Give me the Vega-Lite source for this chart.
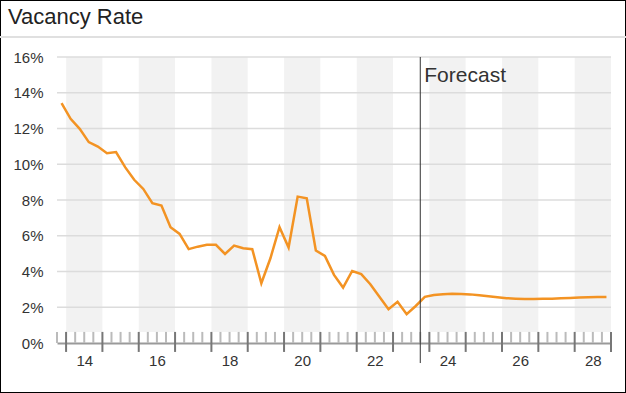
{
  "$schema": "https://vega.github.io/schema/vega-lite/v6.json",
  "width": 626,
  "height": 393,
  "padding": 0,
  "autosize": {"type": "none"},
  "background": "white",
  "config": {
    "view": {"stroke": "black", "strokeWidth": 2},
    "font": "Liberation Sans"
  },
  "title": {
    "text": "Vacancy Rate",
    "anchor": "start",
    "frame": "group",
    "orient": "top",
    "fontSize": 22,
    "fontWeight": "normal",
    "font": "Liberation Sans",
    "color": "#222",
    "baseline": "alphabetic",
    "offset": -24,
    "dx": 8,
    "dy": 22
  },
  "datasets": {
    "series": [
      {"t": 2013.875, "v": 13.42}, {"t": 2014.125, "v": 12.54}, {"t": 2014.375, "v": 11.98}, {"t": 2014.625, "v": 11.24},
      {"t": 2014.875, "v": 10.99}, {"t": 2015.125, "v": 10.62}, {"t": 2015.375, "v": 10.68}, {"t": 2015.625, "v": 9.84},
      {"t": 2015.875, "v": 9.13}, {"t": 2016.125, "v": 8.62}, {"t": 2016.375, "v": 7.82}, {"t": 2016.625, "v": 7.69},
      {"t": 2016.875, "v": 6.48}, {"t": 2017.125, "v": 6.10}, {"t": 2017.375, "v": 5.25}, {"t": 2017.625, "v": 5.39},
      {"t": 2017.875, "v": 5.49}, {"t": 2018.125, "v": 5.49}, {"t": 2018.375, "v": 4.98}, {"t": 2018.625, "v": 5.45},
      {"t": 2018.875, "v": 5.30}, {"t": 2019.125, "v": 5.25}, {"t": 2019.375, "v": 3.34}, {"t": 2019.625, "v": 4.74},
      {"t": 2019.875, "v": 6.48}, {"t": 2020.125, "v": 5.34}, {"t": 2020.375, "v": 8.19}, {"t": 2020.625, "v": 8.10},
      {"t": 2020.875, "v": 5.17}, {"t": 2021.125, "v": 4.87}, {"t": 2021.375, "v": 3.81}, {"t": 2021.625, "v": 3.10},
      {"t": 2021.875, "v": 4.03}, {"t": 2022.125, "v": 3.85}, {"t": 2022.375, "v": 3.29}, {"t": 2022.625, "v": 2.59},
      {"t": 2022.875, "v": 1.89}, {"t": 2023.125, "v": 2.31}, {"t": 2023.375, "v": 1.61}, {"t": 2023.625, "v": 2.07},
      {"t": 2023.875, "v": 2.58}, {"t": 2024.125, "v": 2.69}, {"t": 2024.375, "v": 2.73}, {"t": 2024.625, "v": 2.75},
      {"t": 2024.875, "v": 2.74}, {"t": 2025.125, "v": 2.72}, {"t": 2025.375, "v": 2.67}, {"t": 2025.625, "v": 2.61},
      {"t": 2025.875, "v": 2.56}, {"t": 2026.125, "v": 2.51}, {"t": 2026.375, "v": 2.48}, {"t": 2026.625, "v": 2.46},
      {"t": 2026.875, "v": 2.46}, {"t": 2027.125, "v": 2.47}, {"t": 2027.375, "v": 2.48}, {"t": 2027.625, "v": 2.50},
      {"t": 2027.875, "v": 2.52}, {"t": 2028.125, "v": 2.54}, {"t": 2028.375, "v": 2.56}, {"t": 2028.625, "v": 2.57},
      {"t": 2028.875, "v": 2.58}
    ],
    "bands": [
      {"start": 2014, "end": 2015}, {"start": 2016, "end": 2017}, {"start": 2018, "end": 2019}, {"start": 2020, "end": 2021},
      {"start": 2022, "end": 2023}, {"start": 2024, "end": 2025}, {"start": 2026, "end": 2027}, {"start": 2028, "end": 2029}
    ],
    "grid": [{"g": 2}, {"g": 4}, {"g": 6}, {"g": 8}, {"g": 10}, {"g": 12}, {"g": 14}, {"g": 16}],
    "qticks": [
      {"t": 2013.75},
      {"t": 2014}, {"t": 2014.25}, {"t": 2014.5}, {"t": 2014.75},
      {"t": 2015}, {"t": 2015.25}, {"t": 2015.5}, {"t": 2015.75},
      {"t": 2016}, {"t": 2016.25}, {"t": 2016.5}, {"t": 2016.75},
      {"t": 2017}, {"t": 2017.25}, {"t": 2017.5}, {"t": 2017.75},
      {"t": 2018}, {"t": 2018.25}, {"t": 2018.5}, {"t": 2018.75},
      {"t": 2019}, {"t": 2019.25}, {"t": 2019.5}, {"t": 2019.75},
      {"t": 2020}, {"t": 2020.25}, {"t": 2020.5}, {"t": 2020.75},
      {"t": 2021}, {"t": 2021.25}, {"t": 2021.5}, {"t": 2021.75},
      {"t": 2022}, {"t": 2022.25}, {"t": 2022.5}, {"t": 2022.75},
      {"t": 2023}, {"t": 2023.25}, {"t": 2023.5}, {"t": 2023.75},
      {"t": 2024}, {"t": 2024.25}, {"t": 2024.5}, {"t": 2024.75},
      {"t": 2025}, {"t": 2025.25}, {"t": 2025.5}, {"t": 2025.75},
      {"t": 2026}, {"t": 2026.25}, {"t": 2026.5}, {"t": 2026.75},
      {"t": 2027}, {"t": 2027.25}, {"t": 2027.5}, {"t": 2027.75},
      {"t": 2028}, {"t": 2028.25}, {"t": 2028.5}, {"t": 2028.75},
      {"t": 2029}
    ]
  },
  "layer": [
    {
      "data": {"name": "bands"},
      "mark": {"type": "rect", "color": "black", "opacity": 0.05},
      "encoding": {
        "x": {
          "field": "start", "type": "quantitative",
          "scale": {"domain": [2013.75, 2029], "range": [57, 611], "nice": false, "zero": false},
          "axis": {
            "orient": "bottom", "offset": -50, "values": [2014.5, 2016.5, 2018.5, 2020.5, 2022.5, 2024.5, 2026.5, 2028.5],
            "labelExpr": "floor(datum.value) % 100", "ticks": false, "tickSize": 0, "grid": false,
            "domain": true, "domainColor": "#9a9a9a", "domainWidth": 2,
            "labelFontSize": 15, "labelColor": "#333", "labelPadding": 10, "title": null, "labelFont": "Liberation Sans"
          }
        },
        "x2": {"field": "end"},
        "y": {
          "datum": 16, "type": "quantitative",
          "scale": {"domain": [0, 16], "range": [343, 57], "nice": false},
          "axis": {
            "orient": "left", "offset": -57, "values": [0, 2, 4, 6, 8, 10, 12, 14, 16],
            "labelExpr": "datum.value + '%'", "ticks": false, "tickSize": 0, "grid": false, "domain": false,
            "labelFontSize": 15, "labelColor": "#333", "labelPadding": 14, "title": null, "labelFont": "Liberation Sans"
          }
        },
        "y2": {"datum": 0.62}
      }
    },
    {
      "data": {"name": "grid"},
      "mark": {"type": "rule", "color": "#dcdcdc", "strokeWidth": 1.5},
      "encoding": {
        "y": {"field": "g", "type": "quantitative", "title": null},
        "x": {"datum": 2013.75, "type": "quantitative", "title": null},
        "x2": {"datum": 2029}
      }
    },
    {
      "data": {"values": [{}]},
      "mark": {"type": "rule", "color": "#e0e0e0", "strokeWidth": 2},
      "encoding": {
        "y": {"datum": 17.12, "type": "quantitative", "title": null}
      }
    },
    {
      "data": {"name": "qticks"},
      "transform": [{"filter": "datum.t % 1 != 0"}],
      "mark": {"type": "rule", "color": "#bbbbbb", "strokeWidth": 2},
      "encoding": {
        "x": {"field": "t", "type": "quantitative", "title": null},
        "y": {"datum": 0, "type": "quantitative", "title": null},
        "y2": {"datum": 0.62}
      }
    },
    {
      "data": {"name": "series"},
      "mark": {"type": "line", "color": "#f39323", "strokeWidth": 2.5},
      "encoding": {
        "x": {"field": "t", "type": "quantitative", "title": null},
        "y": {"field": "v", "type": "quantitative", "title": null}
      }
    },
    {
      "data": {"name": "qticks"},
      "transform": [{"filter": "datum.t % 1 == 0"}],
      "mark": {"type": "rule", "color": "#777777", "strokeWidth": 2},
      "encoding": {
        "x": {"field": "t", "type": "quantitative", "title": null},
        "y": {"datum": -0.5, "type": "quantitative", "title": null},
        "y2": {"datum": 0.62}
      }
    },
    {
      "data": {"values": [{}]},
      "mark": {"type": "rule", "color": "#333", "strokeWidth": 1},
      "encoding": {
        "x": {"datum": 2023.75, "type": "quantitative", "title": null},
        "y": {"datum": 16, "type": "quantitative", "title": null},
        "y2": {"datum": -1.12}
      }
    },
    {
      "data": {"values": [{}]},
      "mark": {"type": "text", "text": "Forecast", "align": "left", "baseline": "alphabetic", "fontSize": 21, "color": "#333", "dx": 4, "dy": 25, "font": "Liberation Sans"},
      "encoding": {
        "x": {"datum": 2023.75, "type": "quantitative", "title": null},
        "y": {"datum": 16, "type": "quantitative", "title": null}
      }
    }
  ]
}
